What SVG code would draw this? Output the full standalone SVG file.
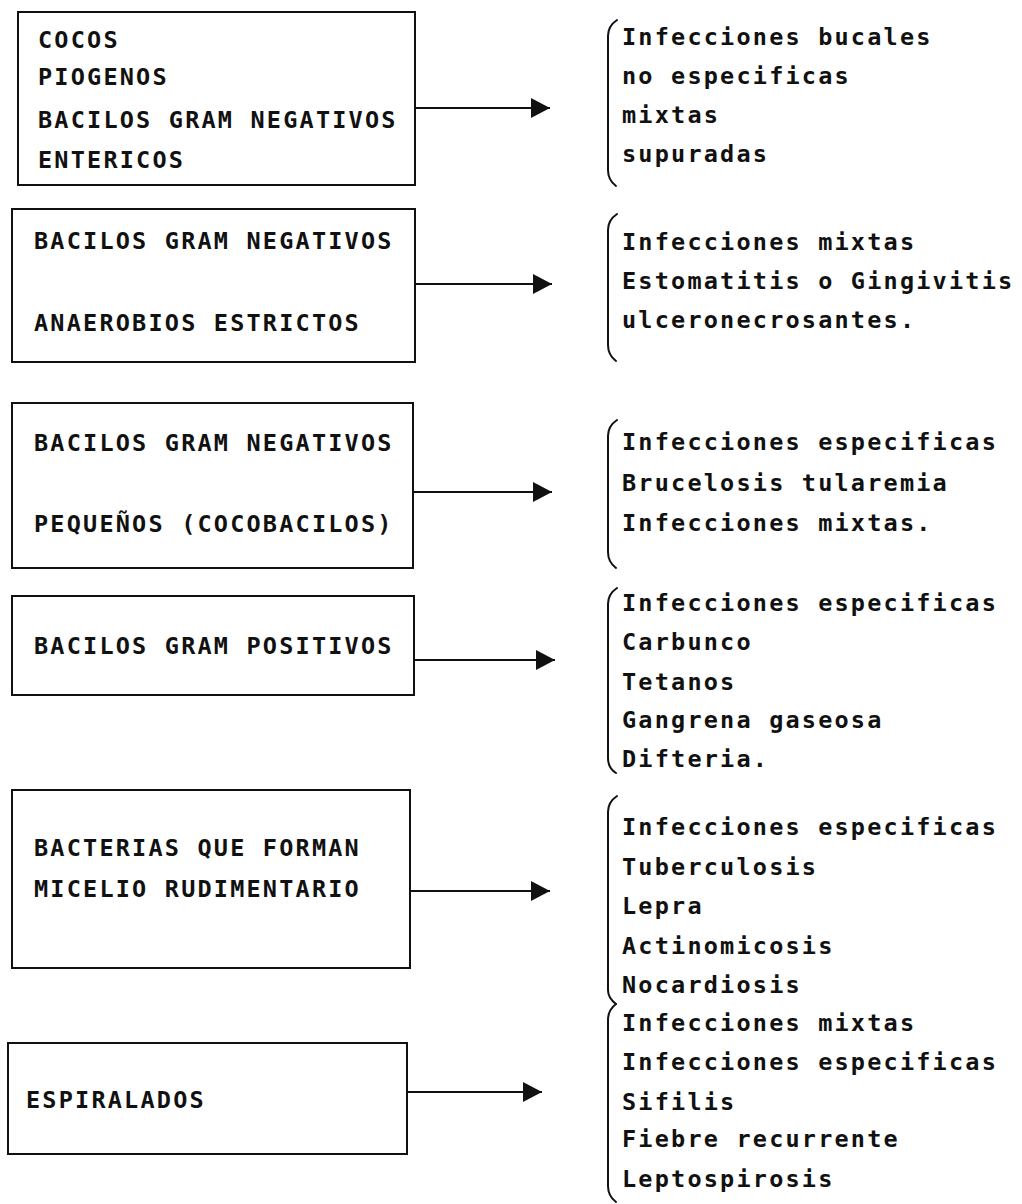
<svg xmlns="http://www.w3.org/2000/svg" width="1022" height="1204" viewBox="0 0 1022 1204">
<style>
.box{fill:none;stroke:#111;stroke-width:2}
.t{font-family:"DejaVu Sans Mono","Liberation Mono",monospace;font-size:23.5px;font-weight:bold;letter-spacing:2.2px;fill:#111}
.br{fill:none;stroke:#111;stroke-width:2;stroke-linecap:round}
.cn{fill:none;stroke:#111;stroke-width:2}
</style>
<defs>
<marker id="ah" markerUnits="userSpaceOnUse" markerWidth="22" markerHeight="22" refX="20" refY="11" orient="auto">
<path d="M1,1 L20,11 L1,21 Z" fill="#111"/>
</marker>
</defs>
<rect width="1022" height="1204" fill="#fff"/>
<g id="node1">
<rect class="box" x="18" y="12" width="397" height="173"/>
<text class="t" x="38" y="48">COCOS</text>
<text class="t" x="38" y="85">PIOGENOS</text>
<text class="t" x="38" y="128">BACILOS GRAM NEGATIVOS</text>
<text class="t" x="38" y="168">ENTERICOS</text>
</g>
<g id="node2">
<rect class="box" x="12" y="209" width="403" height="153"/>
<text class="t" x="34" y="249">BACILOS GRAM NEGATIVOS</text>
<text class="t" x="34" y="331">ANAEROBIOS ESTRICTOS</text>
</g>
<g id="node3">
<rect class="box" x="12" y="403" width="401" height="165"/>
<text class="t" x="34" y="451">BACILOS GRAM NEGATIVOS</text>
<text class="t" x="34" y="532">PEQUEÑOS (COCOBACILOS)</text>
</g>
<g id="node4">
<rect class="box" x="12" y="596" width="402" height="99"/>
<text class="t" x="34" y="654">BACILOS GRAM POSITIVOS</text>
</g>
<g id="node5">
<rect class="box" x="12" y="790" width="398" height="178"/>
<text class="t" x="34" y="856">BACTERIAS QUE FORMAN</text>
<text class="t" x="34" y="897">MICELIO RUDIMENTARIO</text>
</g>
<g id="node6">
<rect class="box" x="8" y="1043" width="399" height="111"/>
<text class="t" x="26" y="1108">ESPIRALADOS</text>
</g>
<g id="list1">
<path class="br" d="M617,20 Q608,26 608,36 L608,170 Q608,180 616,186"/>
<text class="t" x="622" y="45">Infecciones bucales</text>
<text class="t" x="622" y="84">no especificas</text>
<text class="t" x="622" y="123">mixtas</text>
<text class="t" x="622" y="162">supuradas</text>
</g>
<g id="list2">
<path class="br" d="M617,214 Q608,220 608,230 L608,345 Q608,355 616,361"/>
<text class="t" x="622" y="250">Infecciones mixtas</text>
<text class="t" x="622" y="289">Estomatitis o Gingivitis</text>
<text class="t" x="622" y="328">ulceronecrosantes.</text>
</g>
<g id="list3">
<path class="br" d="M617,420 Q608,426 608,436 L608,552 Q608,562 616,568"/>
<text class="t" x="622" y="450">Infecciones especificas</text>
<text class="t" x="622" y="491">Brucelosis tularemia</text>
<text class="t" x="622" y="531">Infecciones mixtas.</text>
</g>
<g id="list4">
<path class="br" d="M617,588 Q608,594 608,604 L608,758 Q608,768 616,773"/>
<text class="t" x="622" y="611">Infecciones especificas</text>
<text class="t" x="622" y="650">Carbunco</text>
<text class="t" x="622" y="690">Tetanos</text>
<text class="t" x="622" y="728">Gangrena gaseosa</text>
<text class="t" x="622" y="767">Difteria.</text>
</g>
<g id="list5">
<path class="br" d="M617,796 Q608,802 608,812 L608,990 Q608,998 616,1004"/>
<text class="t" x="622" y="835">Infecciones especificas</text>
<text class="t" x="622" y="875">Tuberculosis</text>
<text class="t" x="622" y="914">Lepra</text>
<text class="t" x="622" y="954">Actinomicosis</text>
<text class="t" x="622" y="993">Nocardiosis</text>
</g>
<g id="list6">
<path class="br" d="M616,1004 Q608,1010 608,1020 L608,1186 Q608,1196 616,1202"/>
<text class="t" x="622" y="1031">Infecciones mixtas</text>
<text class="t" x="622" y="1070">Infecciones especificas</text>
<text class="t" x="622" y="1110">Sifilis</text>
<text class="t" x="622" y="1147">Fiebre recurrente</text>
<text class="t" x="622" y="1187">Leptospirosis</text>
</g>
<g id="connectors">
<line class="cn" x1="415" y1="108" x2="550" y2="108" marker-end="url(#ah)"/>
<line class="cn" x1="415" y1="284" x2="552" y2="284" marker-end="url(#ah)"/>
<line class="cn" x1="413" y1="492" x2="552" y2="492" marker-end="url(#ah)"/>
<line class="cn" x1="414" y1="660" x2="555" y2="660" marker-end="url(#ah)"/>
<line class="cn" x1="410" y1="891" x2="550" y2="891" marker-end="url(#ah)"/>
<line class="cn" x1="407" y1="1092" x2="542" y2="1092" marker-end="url(#ah)"/>
</g>
</svg>
